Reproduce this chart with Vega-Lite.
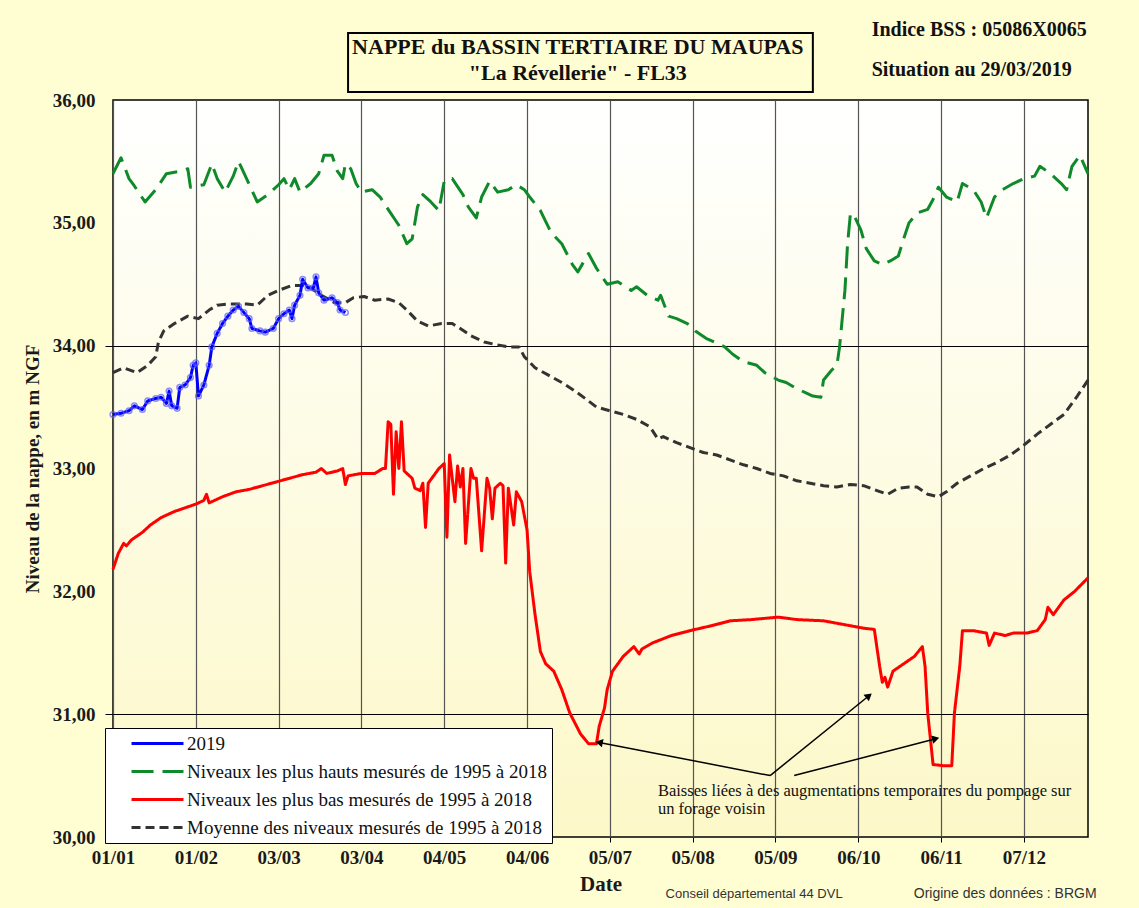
{
"$schema": "https://vega.github.io/schema/vega-lite/v6.json",
"width": 975,
"height": 737,
"autosize": {"type": "none"},
"padding": {"left": 113, "top": 100, "right": 51, "bottom": 71},
"background": "#fffed2",
"config": {
  "font": "Liberation Serif",
  "view": {"stroke": "#000000", "strokeWidth": 1.5, "fill": {"gradient": "linear", "x1": 0, "y1": 0, "x2": 0, "y2": 1, "stops": [{"offset": 0, "color": "#ffffff"}, {"offset": 1, "color": "#fcf8c8"}]}},
  "axis": {"labelFont": "Liberation Serif", "titleFont": "Liberation Serif", "labelColor": "#1a1a1a", "titleColor": "#1a1a1a"}
},
"datasets": {
  "hauts": [
    {"date":"2020-01-01","niveau":35.40},{"date":"2020-01-04","niveau":35.53},{"date":"2020-01-07","niveau":35.36},{"date":"2020-01-09","niveau":35.30},{"date":"2020-01-13","niveau":35.17},{"date":"2020-01-17","niveau":35.27},{"date":"2020-01-21","niveau":35.40},{"date":"2020-01-26","niveau":35.42},{"date":"2020-01-29","niveau":35.44},{"date":"2020-01-30","niveau":35.29},
    {"date":"2020-02-04","niveau":35.31},{"date":"2020-02-07","niveau":35.48},{"date":"2020-02-09","niveau":35.36},{"date":"2020-02-12","niveau":35.25},{"date":"2020-02-15","niveau":35.38},{"date":"2020-02-17","niveau":35.50},{"date":"2020-02-20","niveau":35.36},{"date":"2020-02-24","niveau":35.17},{"date":"2020-02-28","niveau":35.23},
    {"date":"2020-03-03","niveau":35.31},{"date":"2020-03-05","niveau":35.36},{"date":"2020-03-07","niveau":35.27},{"date":"2020-03-09","niveau":35.36},{"date":"2020-03-11","niveau":35.25},{"date":"2020-03-15","niveau":35.32},{"date":"2020-03-18","niveau":35.40},{"date":"2020-03-20","niveau":35.55},{"date":"2020-03-23","niveau":35.55},{"date":"2020-03-25","niveau":35.42},{"date":"2020-03-27","niveau":35.36},{"date":"2020-03-28","niveau":35.48},{"date":"2020-03-30","niveau":35.44},
    {"date":"2020-04-01","niveau":35.32},{"date":"2020-04-03","niveau":35.25},{"date":"2020-04-07","niveau":35.27},{"date":"2020-04-10","niveau":35.21},{"date":"2020-04-13","niveau":35.11},{"date":"2020-04-17","niveau":34.98},{"date":"2020-04-20","niveau":34.83},{"date":"2020-04-22","niveau":34.87},{"date":"2020-04-24","niveau":35.13},{"date":"2020-04-26","niveau":35.23},{"date":"2020-04-29","niveau":35.17},
    {"date":"2020-05-02","niveau":35.10},{"date":"2020-05-04","niveau":35.34},{"date":"2020-05-07","niveau":35.36},{"date":"2020-05-11","niveau":35.23},{"date":"2020-05-13","niveau":35.13},{"date":"2020-05-16","niveau":35.04},{"date":"2020-05-18","niveau":35.21},{"date":"2020-05-21","niveau":35.34},{"date":"2020-05-24","niveau":35.25},{"date":"2020-05-28","niveau":35.27},{"date":"2020-05-31","niveau":35.31},
    {"date":"2020-06-03","niveau":35.27},{"date":"2020-06-05","niveau":35.21},{"date":"2020-06-09","niveau":35.10},{"date":"2020-06-13","niveau":34.92},{"date":"2020-06-17","niveau":34.83},{"date":"2020-06-21","niveau":34.66},{"date":"2020-06-23","niveau":34.60},{"date":"2020-06-27","niveau":34.75},{"date":"2020-06-30","niveau":34.63},
    {"date":"2020-07-04","niveau":34.50},{"date":"2020-07-08","niveau":34.52},{"date":"2020-07-13","niveau":34.45},{"date":"2020-07-15","niveau":34.48},{"date":"2020-07-19","niveau":34.41},{"date":"2020-07-23","niveau":34.37},{"date":"2020-07-24","niveau":34.41},{"date":"2020-07-27","niveau":34.24},{"date":"2020-07-30","niveau":34.22},
    {"date":"2020-08-03","niveau":34.18},{"date":"2020-08-06","niveau":34.12},{"date":"2020-08-10","niveau":34.06},{"date":"2020-08-13","niveau":34.03},{"date":"2020-08-17","niveau":33.99},{"date":"2020-08-20","niveau":33.93},{"date":"2020-08-24","niveau":33.87},{"date":"2020-08-29","niveau":33.84},
    {"date":"2020-09-01","niveau":33.78},{"date":"2020-09-06","niveau":33.72},{"date":"2020-09-09","niveau":33.70},{"date":"2020-09-13","niveau":33.65},{"date":"2020-09-17","niveau":33.61},{"date":"2020-09-19","niveau":33.59},{"date":"2020-09-22","niveau":33.58},{"date":"2020-09-23","niveau":33.72},{"date":"2020-09-26","niveau":33.80},{"date":"2020-09-28","niveau":33.84},{"date":"2020-09-29","niveau":33.99},
    {"date":"2020-10-01","niveau":34.45},{"date":"2020-10-02","niveau":34.83},{"date":"2020-10-03","niveau":35.06},{"date":"2020-10-04","niveau":35.08},{"date":"2020-10-07","niveau":34.94},{"date":"2020-10-09","niveau":34.79},{"date":"2020-10-12","niveau":34.69},{"date":"2020-10-15","niveau":34.66},{"date":"2020-10-18","niveau":34.69},{"date":"2020-10-21","niveau":34.73},{"date":"2020-10-23","niveau":34.87},{"date":"2020-10-25","niveau":35.00},{"date":"2020-10-28","niveau":35.08},
    {"date":"2020-11-01","niveau":35.11},{"date":"2020-11-03","niveau":35.19},{"date":"2020-11-05","niveau":35.29},{"date":"2020-11-08","niveau":35.21},{"date":"2020-11-12","niveau":35.17},{"date":"2020-11-14","niveau":35.32},{"date":"2020-11-18","niveau":35.27},{"date":"2020-11-21","niveau":35.17},{"date":"2020-11-23","niveau":35.04},{"date":"2020-11-26","niveau":35.21},{"date":"2020-11-29","niveau":35.27},
    {"date":"2020-12-03","niveau":35.32},{"date":"2020-12-07","niveau":35.36},{"date":"2020-12-11","niveau":35.38},{"date":"2020-12-13","niveau":35.46},{"date":"2020-12-17","niveau":35.40},{"date":"2020-12-21","niveau":35.32},{"date":"2020-12-23","niveau":35.27},{"date":"2020-12-25","niveau":35.46},{"date":"2020-12-28","niveau":35.55},{"date":"2020-12-31","niveau":35.40}
  ],
  "bas": [
    {"date":"2020-01-01","niveau":32.18},{"date":"2020-01-03","niveau":32.31},{"date":"2020-01-05","niveau":32.39},{"date":"2020-01-06","niveau":32.37},{"date":"2020-01-08","niveau":32.42},{"date":"2020-01-12","niveau":32.48},{"date":"2020-01-15","niveau":32.54},{"date":"2020-01-19","niveau":32.60},{"date":"2020-01-24","niveau":32.65},{"date":"2020-01-28","niveau":32.68},
    {"date":"2020-02-01","niveau":32.71},{"date":"2020-02-04","niveau":32.74},{"date":"2020-02-05","niveau":32.79},{"date":"2020-02-06","niveau":32.72},{"date":"2020-02-11","niveau":32.77},{"date":"2020-02-16","niveau":32.81},{"date":"2020-02-21","niveau":32.83},{"date":"2020-02-26","niveau":32.86},
    {"date":"2020-03-02","niveau":32.89},{"date":"2020-03-07","niveau":32.92},{"date":"2020-03-12","niveau":32.95},{"date":"2020-03-17","niveau":32.97},{"date":"2020-03-19","niveau":33.00},{"date":"2020-03-21","niveau":32.96},{"date":"2020-03-25","niveau":32.98},{"date":"2020-03-27","niveau":33.00},{"date":"2020-03-28","niveau":32.87},{"date":"2020-03-29","niveau":32.94},
    {"date":"2020-04-03","niveau":32.96},{"date":"2020-04-08","niveau":32.96},{"date":"2020-04-11","niveau":33.00},{"date":"2020-04-12","niveau":33.00},{"date":"2020-04-13","niveau":33.38},{"date":"2020-04-14","niveau":33.36},{"date":"2020-04-15","niveau":32.79},{"date":"2020-04-16","niveau":33.30},{"date":"2020-04-17","niveau":33.00},{"date":"2020-04-18","niveau":33.38},{"date":"2020-04-19","niveau":32.98},{"date":"2020-04-20","niveau":32.96},{"date":"2020-04-22","niveau":32.92},{"date":"2020-04-23","niveau":32.84},{"date":"2020-04-25","niveau":32.82},{"date":"2020-04-26","niveau":32.88},{"date":"2020-04-27","niveau":32.52},{"date":"2020-04-28","niveau":32.88},{"date":"2020-04-30","niveau":32.94},
    {"date":"2020-05-02","niveau":33.00},{"date":"2020-05-04","niveau":33.04},{"date":"2020-05-05","niveau":32.44},{"date":"2020-05-06","niveau":33.11},{"date":"2020-05-08","niveau":32.73},{"date":"2020-05-09","niveau":33.02},{"date":"2020-05-10","niveau":32.85},{"date":"2020-05-11","niveau":33.00},{"date":"2020-05-12","niveau":32.39},{"date":"2020-05-14","niveau":33.00},{"date":"2020-05-15","niveau":32.92},{"date":"2020-05-16","niveau":32.92},{"date":"2020-05-18","niveau":32.33},{"date":"2020-05-20","niveau":32.92},{"date":"2020-05-21","niveau":32.84},{"date":"2020-05-22","niveau":32.59},{"date":"2020-05-23","niveau":32.84},{"date":"2020-05-25","niveau":32.88},{"date":"2020-05-26","niveau":32.86},{"date":"2020-05-27","niveau":32.23},{"date":"2020-05-28","niveau":32.84},{"date":"2020-05-30","niveau":32.54},{"date":"2020-05-31","niveau":32.81},
    {"date":"2020-06-02","niveau":32.73},{"date":"2020-06-04","niveau":32.50},{"date":"2020-06-05","niveau":32.16},{"date":"2020-06-07","niveau":31.81},{"date":"2020-06-09","niveau":31.51},{"date":"2020-06-11","niveau":31.41},{"date":"2020-06-14","niveau":31.35},{"date":"2020-06-17","niveau":31.20},{"date":"2020-06-20","niveau":31.01},{"date":"2020-06-24","niveau":30.84},{"date":"2020-06-27","niveau":30.76},{"date":"2020-06-30","niveau":30.76},
    {"date":"2020-07-01","niveau":30.90},{"date":"2020-07-03","niveau":31.05},{"date":"2020-07-04","niveau":31.20},{"date":"2020-07-06","niveau":31.35},{"date":"2020-07-10","niveau":31.47},{"date":"2020-07-14","niveau":31.55},{"date":"2020-07-16","niveau":31.49},{"date":"2020-07-17","niveau":31.53},{"date":"2020-07-21","niveau":31.58},{"date":"2020-07-28","niveau":31.64},
    {"date":"2020-08-04","niveau":31.68},{"date":"2020-08-12","niveau":31.72},{"date":"2020-08-19","niveau":31.76},{"date":"2020-08-27","niveau":31.77},{"date":"2020-09-06","niveau":31.79},{"date":"2020-09-13","niveau":31.77},{"date":"2020-09-23","niveau":31.76},
    {"date":"2020-10-03","niveau":31.72},{"date":"2020-10-08","niveau":31.70},{"date":"2020-10-12","niveau":31.69},{"date":"2020-10-14","niveau":31.39},{"date":"2020-10-15","niveau":31.26},{"date":"2020-10-16","niveau":31.30},{"date":"2020-10-17","niveau":31.22},{"date":"2020-10-19","niveau":31.35},{"date":"2020-10-23","niveau":31.41},{"date":"2020-10-27","niveau":31.47},{"date":"2020-10-30","niveau":31.55},{"date":"2020-10-31","niveau":31.39},
    {"date":"2020-11-01","niveau":31.01},{"date":"2020-11-03","niveau":30.59},{"date":"2020-11-07","niveau":30.58},{"date":"2020-11-10","niveau":30.58},{"date":"2020-11-11","niveau":31.01},{"date":"2020-11-13","niveau":31.39},{"date":"2020-11-14","niveau":31.68},{"date":"2020-11-18","niveau":31.68},{"date":"2020-11-23","niveau":31.66},{"date":"2020-11-24","niveau":31.56},{"date":"2020-11-26","niveau":31.66},{"date":"2020-11-30","niveau":31.64},
    {"date":"2020-12-03","niveau":31.66},{"date":"2020-12-08","niveau":31.66},{"date":"2020-12-12","niveau":31.68},{"date":"2020-12-15","niveau":31.77},{"date":"2020-12-16","niveau":31.87},{"date":"2020-12-18","niveau":31.81},{"date":"2020-12-22","niveau":31.93},{"date":"2020-12-26","niveau":32.00},{"date":"2020-12-31","niveau":32.11}
  ],
  "moyenne": [
    {"date":"2020-01-01","niveau":33.78},{"date":"2020-01-05","niveau":33.82},{"date":"2020-01-10","niveau":33.78},{"date":"2020-01-14","niveau":33.84},{"date":"2020-01-17","niveau":33.91},{"date":"2020-01-18","niveau":34.03},{"date":"2020-01-20","niveau":34.12},{"date":"2020-01-24","niveau":34.18},{"date":"2020-01-29","niveau":34.24},
    {"date":"2020-02-02","niveau":34.22},{"date":"2020-02-06","niveau":34.29},{"date":"2020-02-09","niveau":34.33},{"date":"2020-02-14","niveau":34.34},{"date":"2020-02-20","niveau":34.34},{"date":"2020-02-24","niveau":34.33},{"date":"2020-02-28","niveau":34.41},
    {"date":"2020-03-03","niveau":34.45},{"date":"2020-03-08","niveau":34.49},{"date":"2020-03-12","niveau":34.49},{"date":"2020-03-15","niveau":34.47},{"date":"2020-03-19","niveau":34.41},{"date":"2020-03-24","niveau":34.35},{"date":"2020-03-28","niveau":34.35},{"date":"2020-03-31","niveau":34.39},
    {"date":"2020-04-04","niveau":34.40},{"date":"2020-04-08","niveau":34.37},{"date":"2020-04-13","niveau":34.38},{"date":"2020-04-17","niveau":34.35},{"date":"2020-04-20","niveau":34.29},{"date":"2020-04-24","niveau":34.20},{"date":"2020-04-28","niveau":34.16},
    {"date":"2020-05-03","niveau":34.18},{"date":"2020-05-07","niveau":34.18},{"date":"2020-05-10","niveau":34.14},{"date":"2020-05-14","niveau":34.08},{"date":"2020-05-19","niveau":34.03},{"date":"2020-05-23","niveau":34.01},{"date":"2020-05-28","niveau":33.99},
    {"date":"2020-06-01","niveau":33.99},{"date":"2020-06-03","niveau":33.91},{"date":"2020-06-07","niveau":33.82},{"date":"2020-06-12","niveau":33.76},{"date":"2020-06-17","niveau":33.70},{"date":"2020-06-22","niveau":33.63},{"date":"2020-06-27","niveau":33.55},{"date":"2020-06-30","niveau":33.50},
    {"date":"2020-07-05","niveau":33.47},{"date":"2020-07-10","niveau":33.44},{"date":"2020-07-15","niveau":33.40},{"date":"2020-07-20","niveau":33.34},{"date":"2020-07-23","niveau":33.24},{"date":"2020-07-25","niveau":33.26},{"date":"2020-07-30","niveau":33.21},
    {"date":"2020-08-04","niveau":33.17},{"date":"2020-08-09","niveau":33.13},{"date":"2020-08-14","niveau":33.11},{"date":"2020-08-19","niveau":33.07},{"date":"2020-08-24","niveau":33.03},{"date":"2020-08-29","niveau":33.00},
    {"date":"2020-09-03","niveau":32.96},{"date":"2020-09-08","niveau":32.94},{"date":"2020-09-13","niveau":32.90},{"date":"2020-09-18","niveau":32.88},{"date":"2020-09-23","niveau":32.86},{"date":"2020-09-28","niveau":32.85},
    {"date":"2020-10-03","niveau":32.87},{"date":"2020-10-08","niveau":32.86},{"date":"2020-10-13","niveau":32.82},{"date":"2020-10-17","niveau":32.79},{"date":"2020-10-21","niveau":32.84},{"date":"2020-10-25","niveau":32.85},{"date":"2020-10-28","niveau":32.85},
    {"date":"2020-11-01","niveau":32.79},{"date":"2020-11-05","niveau":32.77},{"date":"2020-11-08","niveau":32.81},{"date":"2020-11-12","niveau":32.88},{"date":"2020-11-17","niveau":32.94},{"date":"2020-11-22","niveau":33.00},{"date":"2020-11-27","niveau":33.05},
    {"date":"2020-12-02","niveau":33.11},{"date":"2020-12-07","niveau":33.19},{"date":"2020-12-12","niveau":33.28},{"date":"2020-12-17","niveau":33.36},{"date":"2020-12-22","niveau":33.44},{"date":"2020-12-27","niveau":33.59},{"date":"2020-12-31","niveau":33.72}
  ],
  "annee2019": [
    {"date":"2019-01-01","niveau":33.44},{"date":"2019-01-04","niveau":33.45},{"date":"2019-01-07","niveau":33.47},{"date":"2019-01-09","niveau":33.51},{"date":"2019-01-12","niveau":33.48},{"date":"2019-01-14","niveau":33.55},{"date":"2019-01-17","niveau":33.57},{"date":"2019-01-19","niveau":33.58},{"date":"2019-01-21","niveau":33.53},{"date":"2019-01-22","niveau":33.63},{"date":"2019-01-23","niveau":33.51},{"date":"2019-01-25","niveau":33.49},{"date":"2019-01-26","niveau":33.66},{"date":"2019-01-28","niveau":33.68},{"date":"2019-01-30","niveau":33.74},{"date":"2019-01-31","niveau":33.84},
    {"date":"2019-02-01","niveau":33.86},{"date":"2019-02-02","niveau":33.59},{"date":"2019-02-04","niveau":33.68},{"date":"2019-02-06","niveau":33.84},{"date":"2019-02-07","niveau":33.99},{"date":"2019-02-09","niveau":34.10},{"date":"2019-02-11","niveau":34.18},{"date":"2019-02-13","niveau":34.24},{"date":"2019-02-15","niveau":34.29},{"date":"2019-02-17","niveau":34.32},{"date":"2019-02-19","niveau":34.27},{"date":"2019-02-21","niveau":34.22},{"date":"2019-02-22","niveau":34.14},{"date":"2019-02-25","niveau":34.12},{"date":"2019-02-27","niveau":34.11},
    {"date":"2019-03-01","niveau":34.14},{"date":"2019-03-03","niveau":34.22},{"date":"2019-03-05","niveau":34.26},{"date":"2019-03-07","niveau":34.29},{"date":"2019-03-08","niveau":34.22},{"date":"2019-03-09","niveau":34.33},{"date":"2019-03-11","niveau":34.41},{"date":"2019-03-12","niveau":34.54},{"date":"2019-03-14","niveau":34.47},{"date":"2019-03-16","niveau":34.47},{"date":"2019-03-17","niveau":34.56},{"date":"2019-03-18","niveau":34.43},{"date":"2019-03-20","niveau":34.37},{"date":"2019-03-23","niveau":34.39},{"date":"2019-03-25","niveau":34.35},{"date":"2019-03-26","niveau":34.29},{"date":"2019-03-28","niveau":34.27}
  ]
},
"layer": [
  {
    "data": {"name": "bas"},
    "mark": {"type": "line", "strokeWidth": 3, "strokeJoin": "round"},
    "encoding": {
      "x": {"field": "date", "type": "temporal", "timeUnit": "utcmonthdate",
        "scale": {"type": "utc", "domain": [{"year": 2012, "month": 1, "date": 1, "utc": true}, {"year": 2012, "month": 12, "date": 31, "utc": true}]},
        "axis": {"title": "Date", "titleFontSize": 21, "titleFontWeight": "bold", "titlePadding": 6,
          "values": [{"year": 2012, "month": 1, "date": 1, "utc": true}, {"year": 2012, "month": 2, "date": 1, "utc": true}, {"year": 2012, "month": 3, "date": 3, "utc": true}, {"year": 2012, "month": 4, "date": 3, "utc": true}, {"year": 2012, "month": 5, "date": 4, "utc": true}, {"year": 2012, "month": 6, "date": 4, "utc": true}, {"year": 2012, "month": 7, "date": 5, "utc": true}, {"year": 2012, "month": 8, "date": 5, "utc": true}, {"year": 2012, "month": 9, "date": 5, "utc": true}, {"year": 2012, "month": 10, "date": 6, "utc": true}, {"year": 2012, "month": 11, "date": 6, "utc": true}, {"year": 2012, "month": 12, "date": 7, "utc": true}],
          "format": "%d/%m", "labelFontSize": 19, "labelFontWeight": "bold", "labelFlush": false, "labelOverlap": false, "labelPadding": 6,
          "tickSize": 5, "tickColor": "#000000", "domain": false, "grid": true, "gridColor": "#555555", "gridWidth": 1.2}},
      "y": {"field": "niveau", "type": "quantitative",
        "scale": {"domain": [30, 36], "nice": false, "zero": false},
        "axis": {"title": "Niveau de la nappe, en m NGF", "titleFontSize": 19, "titleFontWeight": "bold", "titlePadding": 10,
          "values": [30, 31, 32, 33, 34, 35, 36], "labelExpr": "replace(format(datum.value, '.2f'), '.', ',')",
          "labelFontSize": 19, "labelFontWeight": "bold", "labelFlush": false, "labelPadding": 10, "domain": false,
          "tickSize": 8, "tickColor": {"condition": {"test": "datum.value === 34 || datum.value === 31", "value": "#000000"}, "value": "transparent"},
          "grid": true, "gridWidth": 1.2, "gridColor": {"condition": {"test": "datum.value === 34 || datum.value === 31", "value": "#000000"}, "value": "transparent"}}},
      "color": {"datum": "Niveaux les plus bas mesurés de 1995 à 2018", "type": "nominal",
        "scale": {"domain": ["2019", "Niveaux les plus hauts mesurés de 1995 à 2018", "Niveaux les plus bas mesurés de 1995 à 2018", "Moyenne des niveaux mesurés de 1995 à 2018"], "range": ["#0000ff", "#0f8a2a", "#ff0000", "#333333"]},
        "legend": {"title": null, "orient": "none", "legendX": -8, "legendY": 628, "fillColor": "#ffffff", "strokeColor": "#000000", "padding": 5, "symbolType": "M-3,0H3", "symbolSize": 300, "symbolStrokeWidth": 3, "symbolOffset": 37, "labelFont": "Liberation Serif", "labelFontSize": 19, "labelOffset": 19, "rowPadding": 7, "labelColor": "#111111", "labelLimit": 600}},
      "strokeDash": {"datum": "Niveaux les plus bas mesurés de 1995 à 2018", "type": "nominal",
        "scale": {"domain": ["2019", "Niveaux les plus hauts mesurés de 1995 à 2018", "Niveaux les plus bas mesurés de 1995 à 2018", "Moyenne des niveaux mesurés de 1995 à 2018"], "range": [[1, 0], [22, 9], [1, 0], [9, 5]]},
        "legend": {"title": null, "orient": "none", "legendX": -8, "legendY": 628, "fillColor": "#ffffff", "strokeColor": "#000000", "padding": 5, "symbolType": "M-3,0H3", "symbolSize": 300, "symbolStrokeWidth": 3, "symbolOffset": 37, "labelFont": "Liberation Serif", "labelFontSize": 19, "labelOffset": 19, "rowPadding": 7, "labelColor": "#111111", "labelLimit": 600}}
    }
  },
  {
    "data": {"name": "hauts"},
    "mark": {"type": "line", "strokeWidth": 3, "strokeJoin": "round"},
    "encoding": {
      "x": {"field": "date", "type": "temporal", "timeUnit": "utcmonthdate", "scale": {"type": "utc"}},
      "y": {"field": "niveau", "type": "quantitative"},
      "color": {"datum": "Niveaux les plus hauts mesurés de 1995 à 2018", "type": "nominal"},
      "strokeDash": {"datum": "Niveaux les plus hauts mesurés de 1995 à 2018", "type": "nominal"}
    }
  },
  {
    "data": {"name": "moyenne"},
    "mark": {"type": "line", "strokeWidth": 3, "strokeJoin": "round"},
    "encoding": {
      "x": {"field": "date", "type": "temporal", "timeUnit": "utcmonthdate", "scale": {"type": "utc"}},
      "y": {"field": "niveau", "type": "quantitative"},
      "color": {"datum": "Moyenne des niveaux mesurés de 1995 à 2018", "type": "nominal"},
      "strokeDash": {"datum": "Moyenne des niveaux mesurés de 1995 à 2018", "type": "nominal"}
    }
  },
  {
    "data": {"name": "annee2019"},
    "mark": {"type": "line", "strokeWidth": 3, "strokeJoin": "round"},
    "encoding": {
      "x": {"field": "date", "type": "temporal", "timeUnit": "utcmonthdate", "scale": {"type": "utc"}},
      "y": {"field": "niveau", "type": "quantitative"},
      "color": {"datum": "2019", "type": "nominal"},
      "strokeDash": {"datum": "2019", "type": "nominal"}
    }
  },
  {
    "data": {"name": "annee2019"},
    "mark": {"type": "point", "shape": "circle", "size": 32, "filled": false, "stroke": "#5b5bff", "strokeWidth": 1.5},
    "encoding": {
      "x": {"field": "date", "type": "temporal", "timeUnit": "utcmonthdate", "scale": {"type": "utc"}},
      "y": {"field": "niveau", "type": "quantitative"}
    }
  },
  {
    "data": {"values": [{}]},
    "mark": {"type": "rule", "color": "#000000", "strokeWidth": 1.5},
    "encoding": {
      "x": {"datum": {"year": 2012, "month": 9, "date": 3, "utc": true}, "type": "temporal", "scale": {"type": "utc"}},
      "y": {"datum": 30.5, "type": "quantitative"},
      "x2": {"datum": {"year": 2012, "month": 7, "date": 1, "utc": true}},
      "y2": {"datum": 30.77}
    }
  },
  {
    "data": {"values": [{}]},
    "mark": {"type": "rule", "color": "#000000", "strokeWidth": 1.5},
    "encoding": {
      "x": {"datum": {"year": 2012, "month": 9, "date": 3, "utc": true}, "type": "temporal", "scale": {"type": "utc"}},
      "y": {"datum": 30.5, "type": "quantitative"},
      "x2": {"datum": {"year": 2012, "month": 10, "date": 10, "utc": true}},
      "y2": {"datum": 31.15}
    }
  },
  {
    "data": {"values": [{}]},
    "mark": {"type": "rule", "color": "#000000", "strokeWidth": 1.5},
    "encoding": {
      "x": {"datum": {"year": 2012, "month": 9, "date": 12, "utc": true}, "type": "temporal", "scale": {"type": "utc"}},
      "y": {"datum": 30.5, "type": "quantitative"},
      "x2": {"datum": {"year": 2012, "month": 11, "date": 4, "utc": true}},
      "y2": {"datum": 30.8}
    }
  },
  {
    "data": {"values": [{}]},
    "mark": {"type": "point", "shape": "triangle-up", "filled": true, "color": "#000000", "opacity": 1, "size": 70, "angle": 281.6},
    "encoding": {
      "x": {"datum": {"year": 2012, "month": 7, "date": 1, "utc": true}, "type": "temporal", "scale": {"type": "utc"}},
      "y": {"datum": 30.77, "type": "quantitative"}
    }
  },
  {
    "data": {"values": [{}]},
    "mark": {"type": "point", "shape": "triangle-up", "filled": true, "color": "#000000", "opacity": 1, "size": 70, "angle": 50},
    "encoding": {
      "x": {"datum": {"year": 2012, "month": 10, "date": 10, "utc": true}, "type": "temporal", "scale": {"type": "utc"}},
      "y": {"datum": 31.15, "type": "quantitative"}
    }
  },
  {
    "data": {"values": [{}]},
    "mark": {"type": "point", "shape": "triangle-up", "filled": true, "color": "#000000", "opacity": 1, "size": 70, "angle": 75.4},
    "encoding": {
      "x": {"datum": {"year": 2012, "month": 11, "date": 4, "utc": true}, "type": "temporal", "scale": {"type": "utc"}},
      "y": {"datum": 30.8, "type": "quantitative"}
    }
  },
  {
    "data": {"values": [{}]},
    "mark": {"type": "text", "align": "left", "baseline": "top", "font": "Liberation Serif", "fontSize": 16.5, "lineHeight": 18, "color": "#111111",
      "text": ["Baisses liées à des augmentations temporaires du pompage sur", "un forage voisin"]},
    "encoding": {
      "x": {"datum": {"year": 2012, "month": 7, "date": 23, "utc": true}, "type": "temporal", "scale": {"type": "utc"}},
      "y": {"datum": 30.44, "type": "quantitative"}
    }
  },
  {
    "data": {"values": [{}]},
    "mark": {"type": "rect", "fill": "#fffed2", "stroke": "#000000", "strokeWidth": 2},
    "encoding": {
      "x": {"datum": {"year": 2012, "month": 3, "date": 29, "utc": true}, "type": "temporal", "scale": {"type": "utc"}},
      "x2": {"datum": {"year": 2012, "month": 9, "date": 19, "utc": true}},
      "y": {"datum": 36.545, "type": "quantitative"},
      "y2": {"datum": 36.065}
    }
  },
  {
    "data": {"values": [{}]},
    "mark": {"type": "text", "align": "center", "baseline": "middle", "font": "Liberation Serif", "fontSize": 22, "fontWeight": "bold", "lineHeight": 26, "color": "#111111",
      "text": ["NAPPE du BASSIN TERTIAIRE DU MAUPAS", "\"La Révellerie\" - FL33"]},
    "encoding": {
      "x": {"datum": {"year": 2012, "month": 6, "date": 23, "utc": true}, "type": "temporal", "scale": {"type": "utc"}},
      "y": {"datum": 36.43, "type": "quantitative"}
    }
  },
  {
    "data": {"values": [{}]},
    "mark": {"type": "text", "align": "left", "baseline": "middle", "font": "Liberation Serif", "fontSize": 20, "fontWeight": "bold", "color": "#111111", "text": "Indice BSS : 05086X0065"},
    "encoding": {
      "x": {"datum": {"year": 2012, "month": 10, "date": 11, "utc": true}, "type": "temporal", "scale": {"type": "utc"}},
      "y": {"datum": 36.57, "type": "quantitative"}
    }
  },
  {
    "data": {"values": [{}]},
    "mark": {"type": "text", "align": "left", "baseline": "middle", "font": "Liberation Serif", "fontSize": 20, "fontWeight": "bold", "color": "#111111", "text": "Situation au 29/03/2019"},
    "encoding": {
      "x": {"datum": {"year": 2012, "month": 10, "date": 11, "utc": true}, "type": "temporal", "scale": {"type": "utc"}},
      "y": {"datum": 36.245, "type": "quantitative"}
    }
  },
  {
    "data": {"values": [{}]},
    "mark": {"type": "text", "align": "center", "baseline": "middle", "font": "Liberation Sans", "fontSize": 13, "color": "#333333", "text": "Conseil départemental 44   DVL"},
    "encoding": {
      "x": {"datum": {"year": 2012, "month": 8, "date": 28, "utc": true}, "type": "temporal", "scale": {"type": "utc"}},
      "y": {"datum": 29.54, "type": "quantitative"}
    }
  },
  {
    "data": {"values": [{}]},
    "mark": {"type": "text", "align": "center", "baseline": "middle", "font": "Liberation Sans", "fontSize": 14, "color": "#333333", "text": "Origine des données : BRGM"},
    "encoding": {
      "x": {"datum": {"year": 2012, "month": 11, "date": 30, "utc": true}, "type": "temporal", "scale": {"type": "utc"}},
      "y": {"datum": 29.54, "type": "quantitative"}
    }
  }
]
}
